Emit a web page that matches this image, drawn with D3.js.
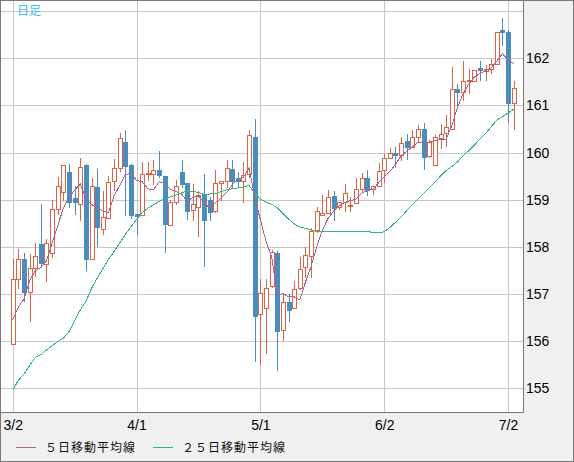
<!DOCTYPE html>
<html>
<head>
<meta charset="utf-8">
<script src="https://cdn.jsdelivr.net/npm/d3@7"></script>
<style>
  html, body { margin: 0; padding: 0; background: #f0f0f0; }
  svg { display: block; }
  .tick text { font-family: "Liberation Sans", Arial, sans-serif; font-size: 14px; fill: #000; }
</style>
</head>
<body>
<svg width="574" height="462"></svg>
<script>
// daily candles, 3/2 - 7/2
var opens = [155.94,157.32,157.74,157.04,157.55,158.07,157.64,157.87,158.81,159.16,
  159.58,159.03,158.91,159.73,157.74,159.28,158.38,158.62,159.40,159.68,
  160.22,159.73,158.69,158.68,159.55,159.55,159.62,159.50,158.47,158.96,
  159.59,159.35,158.79,158.84,159.09,159.00,158.75,159.36,159.39,159.66,
  159.47,159.40,159.55,160.32,156.57,156.70,157.16,157.87,156.23,156.82,
  156.70,157.13,157.57,157.80,158.33,158.68,158.72,159.07,158.84,158.95,
  158.87,158.93,159.23,159.47,159.23,159.29,159.62,159.89,160.00,159.94,
  160.24,160.12,160.33,160.51,159.93,159.73,160.30,160.42,160.51,161.34,
  161.29,161.51,161.52,161.79,161.74,161.77,161.89,162.60,162.55,161.06];
var highs = [157.74,157.96,157.87,157.84,158.09,158.90,158.17,158.99,159.48,159.74,
  159.76,159.30,159.89,159.76,159.45,159.66,159.18,159.50,159.87,160.41,
  160.47,159.76,158.69,159.80,159.80,159.84,160.04,159.50,158.99,159.41,
  159.85,159.35,159.34,159.18,159.54,159.06,159.64,159.39,159.85,159.85,
  159.59,159.80,160.47,160.72,157.32,157.32,157.94,157.92,157.00,156.99,
  157.28,157.78,158.00,158.40,158.84,159.09,159.21,159.18,158.95,159.34,
  159.06,159.45,159.57,159.64,159.29,159.77,159.98,160.09,160.11,160.33,
  160.40,160.48,160.58,160.62,160.26,160.37,160.60,160.79,161.81,161.45,
  161.94,161.77,161.75,161.95,161.86,161.98,162.55,162.85,162.60,161.52];
var lows = [155.94,157.12,156.86,156.43,157.39,157.60,157.27,157.78,158.70,158.99,
  158.84,158.70,158.56,157.50,157.74,158.01,158.28,158.62,159.20,159.60,
  158.68,158.62,158.28,158.68,159.41,159.34,159.48,157.89,158.47,158.91,
  159.27,158.59,158.56,158.24,157.59,158.56,158.74,158.99,159.27,159.27,
  159.30,158.95,159.48,155.58,155.51,155.74,157.14,155.38,156.02,156.43,
  156.70,157.11,157.35,157.35,158.31,158.67,158.72,158.57,158.81,158.77,
  158.76,158.93,159.16,159.11,159.13,159.29,159.38,159.89,159.70,159.84,
  159.87,160.12,160.23,159.66,159.90,159.73,160.09,160.13,160.51,161.01,
  161.11,161.26,161.52,161.54,161.54,161.68,161.89,162.28,160.65,160.51];
var closes = [157.32,157.74,157.04,157.55,157.81,157.65,158.09,158.81,159.30,159.74,
  158.95,158.95,159.70,157.74,159.30,158.42,158.63,159.38,159.68,160.30,
  159.72,158.67,158.66,159.55,159.56,159.62,159.52,158.48,158.95,159.30,
  159.33,158.76,158.91,159.11,158.57,158.74,159.36,159.39,159.67,159.40,
  159.40,159.53,160.37,156.54,157.01,157.13,157.89,156.21,156.83,156.66,
  157.10,157.53,157.82,158.33,158.77,158.72,159.06,158.83,158.95,159.15,
  158.89,159.23,159.47,159.20,159.29,159.61,159.89,159.99,159.95,160.21,
  160.12,160.32,160.51,159.91,160.23,160.33,160.40,160.55,161.34,161.28,
  161.52,161.54,161.75,161.75,161.77,161.89,162.55,162.55,161.06,161.38];

// moving averages as drawn
var ma5 = [156.45,156.72,156.89,157.28,157.49,157.56,157.70,158.08,158.45,158.82,
  159.05,159.20,159.33,159.02,158.90,158.82,158.76,158.72,159.08,159.30,
  159.54,159.55,159.41,159.38,159.23,159.21,159.38,159.34,159.22,159.17,
  159.12,158.96,159.05,159.08,158.94,158.82,158.94,159.03,159.15,159.31,
  159.44,159.48,159.67,159.05,158.57,158.12,157.79,156.96,157.01,156.94,
  156.94,156.87,157.25,157.58,158.00,158.35,158.60,158.76,158.87,158.94,
  158.98,159.01,159.14,159.19,159.22,159.36,159.49,159.60,159.75,159.93,
  160.03,160.12,160.22,160.21,160.22,160.26,160.28,160.28,160.57,160.95,
  161.25,161.45,161.60,161.68,161.74,161.80,161.94,162.10,161.96,161.89];
var ma25 = [154.95,155.17,155.30,155.48,155.65,155.71,155.81,155.90,155.99,156.06,
  156.20,156.43,156.66,156.84,157.12,157.33,157.53,157.73,157.90,158.08,
  158.26,158.42,158.58,158.72,158.82,158.89,158.96,159.02,159.06,159.10,
  159.15,159.18,159.18,159.15,159.11,159.12,159.13,159.17,159.21,159.23,
  159.25,159.27,159.30,159.14,159.01,158.95,158.90,158.83,158.71,158.59,
  158.49,158.42,158.39,158.36,158.34,158.33,158.33,158.33,158.33,158.33,
  158.33,158.32,158.32,158.32,158.31,158.30,158.32,158.41,158.52,158.63,
  158.77,158.89,159.02,159.13,159.25,159.37,159.50,159.62,159.70,159.80,
  159.93,160.04,160.16,160.28,160.40,160.55,160.69,160.76,160.84,160.92];

var dateLabels = ["3/2", "4/1", "5/1", "6/2", "7/2"];
var dateIdx = [0, 22, 44, 66, 88];
var priceTicks = [155, 156, 157, 158, 159, 160, 161, 162];
var gridTicks = [155, 156, 157, 158, 159, 160, 161, 162, 163];

var svg = d3.select("svg");
var W = 574, H = 462;
var plotR = 523, plotB = 412;

var UP = "#dc6446", DOWN = "#4b8cbe", C5 = "#b0608c", C25 = "#30b878";

var x = d3.scaleLinear().domain([0, closes.length - 1]).range([12.7, 513.7]);
var y = d3.scaleLinear().domain([155, 163]).range([388.2, 11.2]);

// background + plot area
svg.append("rect").attr("x", 0).attr("y", 0).attr("width", W).attr("height", H).attr("fill", "#f0f0f0");
svg.append("rect").attr("x", 1).attr("y", 1).attr("width", plotR - 1).attr("height", plotB - 1).attr("fill", "#fff");

// grid
svg.append("g").selectAll("line").data(gridTicks).join("line")
  .attr("x1", 1).attr("x2", plotR)
  .attr("y1", function(d) { return Math.round(y(d)) + 0.5; })
  .attr("y2", function(d) { return Math.round(y(d)) + 0.5; })
  .attr("stroke", "#c8c8c8");
svg.append("g").selectAll("line").data(dateIdx).join("line")
  .attr("x1", function(d) { return Math.round(x(d)) + 0.5; })
  .attr("x2", function(d) { return Math.round(x(d)) + 0.5; })
  .attr("y1", 1).attr("y2", plotB)
  .attr("stroke", "#c8c8c8");

// candles
var idx = d3.range(closes.length);
var candles = svg.append("g").attr("shape-rendering", "crispEdges").selectAll("g").data(idx).join("g");
candles.append("line")
  .attr("x1", function(i) { return Math.round(x(i)) + 0.5; })
  .attr("x2", function(i) { return Math.round(x(i)) + 0.5; })
  .attr("y1", function(i) { return Math.round(y(highs[i])); })
  .attr("y2", function(i) { return Math.round(y(lows[i])) + 1; })
  .attr("stroke", function(i) { return closes[i] >= opens[i] ? UP : DOWN; });
candles.append("rect")
  .attr("x", function(i) { return closes[i] >= opens[i] ? Math.round(x(i)) - 1.5 : Math.round(x(i)) - 2; })
  .attr("y", function(i) {
    var t = Math.round(y(Math.max(opens[i], closes[i])));
    return closes[i] >= opens[i] ? t + 0.5 : t;
  })
  .attr("width", function(i) { return closes[i] >= opens[i] ? 4 : 5; })
  .attr("height", function(i) {
    var t = Math.round(y(Math.max(opens[i], closes[i])));
    var b = Math.round(y(Math.min(opens[i], closes[i])));
    return closes[i] >= opens[i] ? Math.max(b - t, 1) : Math.max(b - t + 1, 2);
  })
  .attr("fill", function(i) { return closes[i] >= opens[i] ? "#fff" : DOWN; })
  .attr("stroke", function(i) { return closes[i] >= opens[i] ? UP : "none"; });

// moving averages
var maLine = d3.line().x(function(d, i) { return x(i); }).y(function(d) { return y(d); });
svg.append("path").attr("d", maLine(ma5)).attr("fill", "none").attr("stroke", C5)
  .attr("stroke-width", 1).attr("shape-rendering", "crispEdges");
svg.append("path").attr("d", maLine(ma25)).attr("fill", "none").attr("stroke", C25)
  .attr("stroke-width", 1).attr("shape-rendering", "crispEdges");

// frame of plot
svg.append("path")
  .attr("d", "M" + (plotR + 0.5) + ",1V" + (plotB + 0.5) + "H1")
  .attr("fill", "none").attr("stroke", "#767676");

// axes
var yAxis = d3.axisRight(y).tickValues(priceTicks).tickSize(0).tickPadding(3).tickFormat(d3.format("d"));
svg.append("g").attr("transform", "translate(" + (plotR) + ",0)").call(yAxis)
  .call(function(g) { g.select(".domain").remove(); });

var xAxis = d3.axisBottom(x).tickValues(dateIdx).tickSize(0).tickPadding(8)
  .tickFormat(function(d, i) { return dateLabels[i]; });
svg.append("g").attr("transform", "translate(0," + plotB + ")").call(xAxis)
  .call(function(g) { g.select(".domain").remove(); });

// title
svg.append("text").attr("x", 17).attr("y", 15).text("日足")
  .attr("font-family", "'Noto Sans CJK JP', sans-serif").attr("font-size", 12).attr("fill", "#3cbcf0");

// legend
var legend = [
  {name: "５日移動平均線", color: C5, x: 16},
  {name: "２５日移動平均線", color: C25, x: 153}
];
var lg = svg.append("g").selectAll("g").data(legend).join("g");
lg.append("line")
  .attr("x1", function(d) { return d.x; }).attr("x2", function(d) { return d.x + 20; })
  .attr("y1", 447.5).attr("y2", 447.5).attr("stroke", function(d) { return d.color; });
lg.append("text")
  .attr("x", function(d) { return d.x + 29; }).attr("y", 452)
  .attr("font-family", "'Noto Sans CJK JP', sans-serif").attr("font-size", 12)
  .attr("letter-spacing", 1).attr("fill", "#111")
  .text(function(d) { return d.name; });

// outer border
svg.append("rect").attr("x", 0.5).attr("y", 0.5).attr("width", W - 1).attr("height", H - 1)
  .attr("fill", "none").attr("stroke", "#7a7a74");
</script>
</body>
</html>
